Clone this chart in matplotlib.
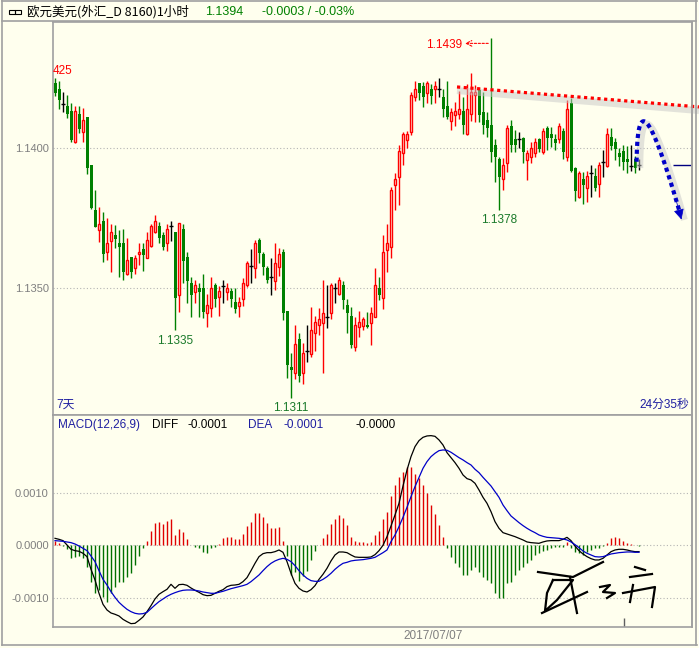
import numpy as np
import matplotlib
matplotlib.use("Agg")
import matplotlib.pyplot as plt
from matplotlib.lines import Line2D

plt.rcParams['font.family'] = ['Liberation Sans', 'Noto Sans CJK SC', 'DejaVu Sans']

# EUR/USD 1 hour candles
opens = [1.14229, 1.14209, 1.14156, 1.14148, 1.14131, 1.14019, 1.14119, 1.14057, 1.14108, 1.13938,
         1.13777, 1.13708, 1.13739, 1.13628, 1.13669, 1.13690, 1.13661, 1.13661, 1.13550, 1.13610,
         1.13571, 1.13621, 1.13640, 1.13609, 1.13649, 1.13699, 1.13723, 1.13688, 1.13660, 1.13722,
         1.13700, 1.13476, 1.13711, 1.13612, 1.13518, 1.13488, 1.13500, 1.13500, 1.13411, 1.13429,
         1.13512, 1.13468, 1.13509, 1.13487, 1.13491, 1.13451, 1.13437, 1.13461, 1.13511, 1.13579,
         1.13571, 1.13672, 1.13622, 1.13571, 1.13539, 1.13526, 1.13577, 1.13629, 1.13418, 1.13219,
         1.13200, 1.13321, 1.13200, 1.13278, 1.13266, 1.13340, 1.13368, 1.13378, 1.13399, 1.13411,
         1.13500, 1.13480, 1.13512, 1.13441, 1.13402, 1.13290, 1.13361, 1.13367, 1.13370, 1.13378,
         1.13399, 1.13500, 1.13467, 1.13636, 1.13648, 1.13867, 1.13897, 1.13980, 1.14027, 1.14057,
         1.14179, 1.14229, 1.14219, 1.14196, 1.14208, 1.14208, 1.14208, 1.14179, 1.14148, 1.14096,
         1.14116, 1.14120, 1.14132, 1.14049, 1.14120, 1.14187, 1.14205, 1.14128, 1.14099, 1.14081,
         1.14010, 1.13959, 1.13888, 1.13947, 1.14078, 1.14030, 1.14031, 1.14036, 1.13956, 1.13968,
         1.13980, 1.14030, 1.13986, 1.14069, 1.14049, 1.14031, 1.14030, 1.14059, 1.13968, 1.14158,
         1.13929, 1.13826, 1.13889, 1.13858, 1.13909, 1.13900, 1.13870, 1.13948, 1.13936, 1.14039,
         1.14019, 1.13980, 1.13988, 1.13960, 1.13936, 1.13960, 1.13938]
highs = [1.14247, 1.14237, 1.14197, 1.14187, 1.14158, 1.14149, 1.14147, 1.14140, 1.14110, 1.13938,
         1.13849, 1.13788, 1.13771, 1.13751, 1.13728, 1.13726, 1.13707, 1.13710, 1.13679, 1.13612,
         1.13618, 1.13661, 1.13661, 1.13701, 1.13728, 1.13761, 1.13737, 1.13701, 1.13728, 1.13738,
         1.13700, 1.13733, 1.13729, 1.13630, 1.13541, 1.13530, 1.13518, 1.13551, 1.13480, 1.13539,
         1.13518, 1.13508, 1.13530, 1.13518, 1.13501, 1.13500, 1.13470, 1.13536, 1.13598, 1.13639,
         1.13672, 1.13678, 1.13630, 1.13579, 1.13607, 1.13662, 1.13642, 1.13639, 1.13420, 1.13269,
         1.13370, 1.13340, 1.13304, 1.13370, 1.13432, 1.13402, 1.13430, 1.13530, 1.13512, 1.13518,
         1.13520, 1.13539, 1.13527, 1.13461, 1.13432, 1.13399, 1.13420, 1.13399, 1.13417, 1.13432,
         1.13571, 1.13539, 1.13690, 1.13729, 1.13861, 1.13911, 1.14010, 1.14057, 1.14060, 1.14199,
         1.14238, 1.14231, 1.14235, 1.14238, 1.14227, 1.14238, 1.14247, 1.14208, 1.14238, 1.14140,
         1.14164, 1.14203, 1.14179, 1.14227, 1.14267, 1.14223, 1.14211, 1.14199, 1.14128, 1.14390,
         1.14030, 1.13968, 1.13962, 1.14081, 1.14099, 1.14063, 1.14057, 1.14039, 1.13992, 1.14019,
         1.14036, 1.14033, 1.14071, 1.14078, 1.14075, 1.14048, 1.14087, 1.14071, 1.14170, 1.14176,
         1.13932, 1.13917, 1.13915, 1.13917, 1.13938, 1.13927, 1.13948, 1.13992, 1.14071, 1.14071,
         1.14033, 1.13998, 1.14010, 1.14007, 1.14010, 1.13972, 1.13960]
lows = [1.14185, 1.14137, 1.14128, 1.14105, 1.14019, 1.14017, 1.14051, 1.14019, 1.13908, 1.13782,
        1.13717, 1.13666, 1.13595, 1.13601, 1.13559, 1.13644, 1.13539, 1.13528, 1.13547, 1.13538,
        1.13550, 1.13583, 1.13562, 1.13607, 1.13648, 1.13697, 1.13660, 1.13636, 1.13633, 1.13669,
        1.13350, 1.13417, 1.13518, 1.13447, 1.13399, 1.13449, 1.13399, 1.13393, 1.13361, 1.13399,
        1.13435, 1.13402, 1.13449, 1.13458, 1.13435, 1.13411, 1.13399, 1.13437, 1.13504, 1.13518,
        1.13536, 1.13589, 1.13547, 1.13518, 1.13476, 1.13494, 1.13544, 1.13387, 1.13180, 1.13110,
        1.13176, 1.13168, 1.13160, 1.13239, 1.13257, 1.13278, 1.13334, 1.13198, 1.13358, 1.13390,
        1.13449, 1.13475, 1.13425, 1.13340, 1.13287, 1.13278, 1.13328, 1.13350, 1.13358, 1.13298,
        1.13397, 1.13458, 1.13427, 1.13559, 1.13609, 1.13778, 1.13796, 1.13940, 1.13999, 1.14045,
        1.14167, 1.14170, 1.14146, 1.14158, 1.14155, 1.14158, 1.14179, 1.14108, 1.14101, 1.14063,
        1.14077, 1.14101, 1.14049, 1.14045, 1.14096, 1.14092, 1.14092, 1.14049, 1.14039, 1.13950,
        1.13879, 1.13780, 1.13850, 1.13914, 1.13986, 1.13986, 1.13998, 1.13945, 1.13885, 1.13945,
        1.13968, 1.13986, 1.13977, 1.13992, 1.14004, 1.13992, 1.14016, 1.13960, 1.13953, 1.13915,
        1.13810, 1.13820, 1.13799, 1.13808, 1.13826, 1.13846, 1.13826, 1.13897, 1.13932, 1.13992,
        1.13956, 1.13936, 1.13921, 1.13909, 1.13917, 1.13909, 1.13921]
closes = [1.14193, 1.14170, 1.14156, 1.14119, 1.14027, 1.14131, 1.14067, 1.14099, 1.13927, 1.13787,
          1.13719, 1.13728, 1.13621, 1.13661, 1.13699, 1.13676, 1.13648, 1.13559, 1.13600, 1.13559,
          1.13609, 1.13629, 1.13618, 1.13671, 1.13721, 1.13739, 1.13678, 1.13648, 1.13711, 1.13722,
          1.13467, 1.13731, 1.13598, 1.13527, 1.13476, 1.13511, 1.13488, 1.13417, 1.13440, 1.13500,
          1.13461, 1.13489, 1.13509, 1.13501, 1.13461, 1.13427, 1.13451, 1.13518, 1.13589, 1.13579,
          1.13660, 1.13627, 1.13577, 1.13530, 1.13539, 1.13591, 1.13622, 1.13411, 1.13227, 1.13209,
          1.13302, 1.13188, 1.13269, 1.13278, 1.13352, 1.13379, 1.13391, 1.13411, 1.13399, 1.13512,
          1.13500, 1.13530, 1.13458, 1.13411, 1.13298, 1.13368, 1.13379, 1.13391, 1.13361, 1.13411,
          1.13512, 1.13476, 1.13629, 1.13660, 1.13850, 1.13890, 1.13988, 1.14049, 1.14049, 1.14187,
          1.14208, 1.14196, 1.14179, 1.14229, 1.14185, 1.14219, 1.14208, 1.14137, 1.14110, 1.14128,
          1.14132, 1.14137, 1.14081, 1.14137, 1.14199, 1.14199, 1.14116, 1.14081, 1.14069, 1.13986,
          1.13968, 1.13897, 1.13937, 1.14069, 1.14010, 1.14010, 1.14031, 1.13986, 1.13980, 1.13998,
          1.14019, 1.13995, 1.14059, 1.14036, 1.14036, 1.14018, 1.14078, 1.13986, 1.14138, 1.13917,
          1.13846, 1.13909, 1.13867, 1.13900, 1.13909, 1.13858, 1.13938, 1.13948, 1.14048, 1.14007,
          1.13995, 1.13968, 1.13948, 1.13948, 1.13936, 1.13927, 1.13938]

# MACD(12,26,9), in units of 0.0001
diff_e4 = [1.33, 1.14, 0.89, 0.06, -0.76, -1.02, -1.14, -1.52, -2.16, -4.57,
           -6.60, -9.14, -11.24, -12.32, -12.89, -13.14, -13.46, -14.10, -14.54, -14.92,
           -14.86, -14.29, -13.65, -12.64, -11.49, -10.22, -9.33, -8.83, -8.38, -7.43,
           -8.19, -7.49, -7.43, -7.62, -8.13, -8.57, -8.95, -9.40, -9.59, -9.53,
           -9.14, -8.76, -8.45, -7.87, -7.62, -7.56, -7.43, -6.92, -6.16, -4.83,
           -3.43, -2.16, -1.59, -1.40, -1.40, -1.21, -0.89, -1.33, -3.11, -5.33,
           -7.24, -8.19, -8.70, -8.89, -8.45, -7.68, -6.48, -5.52, -4.38, -2.98,
           -1.84, -1.27, -1.27, -1.40, -1.84, -2.22, -2.29, -2.29, -2.29, -2.22,
           -1.78, -1.02, 0.00, 1.65, 3.68, 5.78, 8.00, 11.30, 14.35, 16.89,
           18.80, 19.94, 20.57, 20.83, 20.89, 20.76, 20.07, 19.11, 17.65, 16.70,
           15.75, 14.67, 13.40, 12.70, 12.45, 11.81, 10.54, 9.14, 8.00, 6.41,
           4.51, 3.24, 2.41, 2.16, 1.91, 1.65, 1.33, 1.02, 0.64, 0.51,
           0.44, 0.38, 0.64, 0.83, 0.89, 0.89, 0.89, 1.14, 1.52, 0.89,
           -0.13, -1.02, -1.65, -2.16, -2.54, -2.79, -2.79, -2.48, -1.84, -1.21,
           -0.89, -0.76, -0.76, -0.89, -1.08, -1.21, -1.21]
dea_e4 = [0.89, 0.83, 0.76, 0.64, 0.51, 0.25, -0.13, -0.57, -1.02, -2.03,
          -3.11, -4.83, -6.48, -7.56, -8.83, -9.91, -10.86, -11.56, -12.19, -12.64,
          -12.95, -13.08, -13.02, -12.76, -12.07, -11.37, -10.73, -10.22, -9.72, -9.33,
          -9.02, -8.76, -8.57, -8.51, -8.51, -8.57, -8.70, -8.89, -9.02, -9.14,
          -9.14, -8.95, -8.76, -8.51, -8.26, -8.06, -7.87, -7.68, -7.43, -6.92,
          -6.29, -5.65, -4.83, -4.06, -3.43, -2.98, -2.67, -2.48, -2.67, -3.11,
          -3.87, -4.83, -5.65, -6.29, -6.73, -6.86, -6.86, -6.48, -5.97, -5.33,
          -4.57, -3.94, -3.43, -3.24, -2.98, -2.86, -2.79, -2.73, -2.60, -2.48,
          -2.29, -1.84, -1.40, -0.89, 0.70, 1.97, 3.56, 5.33, 7.24, 9.27,
          11.18, 12.95, 14.67, 15.94, 16.89, 17.53, 18.03, 18.16, 18.10, 17.72,
          17.21, 16.70, 16.26, 15.75, 15.30, 14.48, 13.84, 12.95, 12.13, 11.30,
          10.22, 9.14, 7.68, 6.60, 5.59, 4.95, 4.32, 3.75, 3.24, 2.79,
          2.41, 1.97, 1.71, 1.52, 1.46, 1.40, 1.33, 1.21, 1.02, 0.64,
          0.13, -0.44, -1.08, -1.52, -1.84, -2.16, -2.22, -2.16, -1.91, -1.65,
          -1.52, -1.40, -1.33, -1.27, -1.27, -1.33, -1.33]
hist_e4 = [0.89, 0.38, -0.13, -0.76, -2.48, -2.16, -2.03, -2.48, -4.06, -6.92,
           -9.14, -8.51, -9.78, -10.73, -9.14, -7.87, -6.92, -6.92, -5.97, -5.33,
           -3.75, -2.03, -0.57, 0.89, 2.79, 4.32, 4.51, 4.06, 4.64, 5.02,
           1.97, 3.11, 2.60, 1.27, 0.05, -0.25, -0.57, -1.27, -1.40, -0.57,
           -0.38, 0.25, 1.33, 1.65, 1.65, 1.14, 1.14, 2.10, 3.68, 4.51,
           6.10, 6.10, 5.40, 4.19, 3.37, 3.37, 3.49, 0.89, -2.03, -5.65,
           -5.02, -6.73, -5.84, -4.89, -2.79, -1.08, 0.08, 1.46, 2.16, 4.06,
           4.95, 5.78, 5.27, 3.87, 1.52, 0.89, 0.64, 0.64, 0.51, 0.64,
           1.97, 2.73, 4.95, 6.41, 9.40, 11.49, 13.08, 14.03, 14.86, 14.86,
           13.59, 12.76, 11.49, 9.91, 7.68, 5.97, 3.87, 1.65, -0.57, -2.29,
           -3.43, -4.06, -5.65, -5.65, -4.70, -4.06, -5.02, -5.97, -6.60, -7.24,
           -9.02, -10.10, -10.10, -7.24, -6.92, -5.65, -4.70, -4.06, -3.43, -2.79,
           -1.84, -1.40, -1.08, -0.89, -0.57, -0.38, -0.38, -0.25, 0.70, -0.57,
           -1.21, -1.52, -1.84, -1.21, -0.89, -0.57, -0.57, -0.13, 0.38, 1.33,
           1.52, 1.33, 0.89, 0.51, 0.25, 0.05, -0.13]

price_ticks = [1.1350, 1.1400]
macd_ticks = [-0.0010, 0.0000, 0.0010]

BG = '#FFFFEE'
FRAME = '#A0A0A0'
RED = '#FF0000'
GREEN = '#008000'
BLUE = '#0000C8'
TXTBLUE = '#1E1EA0'
GRAY = '#7F7F7F'

W, H = 699, 648
fig = plt.figure(figsize=(W / 100, H / 100), dpi=100, facecolor=BG)


def fx(px):
    return px / W


def fy(py):
    return 1 - py / H


o = np.array(opens)
h = np.array(highs)
l = np.array(lows)
c = np.array(closes)
idx = np.arange(len(o))

ax = fig.add_axes([fx(53), fy(415), fx(692) - fx(53), fy(22) - fy(415)])
ax2 = fig.add_axes([fx(53), fy(627), fx(692) - fx(53), fy(415) - fy(627)])

for a in (ax, ax2):
    a.set_facecolor(BG)
    for s in a.spines.values():
        s.set_color(FRAME)
        s.set_linewidth(1.2)
    a.set_xlim(-0.5, 159.25)
    a.set_xticks([])
    a.tick_params(axis='y', length=0, labelsize=8, labelcolor=GRAY, pad=3)

ax.set_ylim(1.130494, 1.144470)
ax2.set_ylim(-0.001556, 0.002482)

# grid
for p in price_ticks:
    ax.axhline(p, color='#B4B4B4', lw=0.8, ls=(0, (1, 2)), zorder=0)
for m in macd_ticks:
    ax2.axhline(m, color='#B4B4B4', lw=0.8, ls=(0, (1, 2)), zorder=0)
ax.set_yticks(price_ticks)
ax.set_yticklabels([f'{p:.4f}' for p in price_ticks])
ax2.set_yticks(macd_ticks)
ax2.set_yticklabels([f'{m:.4f}' for m in macd_ticks])

# candles
up = c > o
down = c < o
flat = c == o
ax.vlines(idx[up], l[up], h[up], color=RED, lw=1, zorder=1)
ax.vlines(idx[down], l[down], h[down], color=GREEN, lw=1, zorder=1)
ax.vlines(idx[flat], l[flat], h[flat], color='black', lw=1, zorder=1)
body = np.maximum(np.abs(c - o), 0.000025)
ax.bar(idx[up], body[up], bottom=o[up], width=0.62, facecolor=BG,
       edgecolor=RED, linewidth=1, zorder=2)
ax.bar(idx[down], body[down], bottom=c[down], width=0.75, facecolor=GREEN,
       edgecolor=GREEN, linewidth=0, zorder=2)
ax.hlines(o[flat], idx[flat] - 0.4, idx[flat] + 0.4, color='black', lw=1, zorder=2)

# last price marker
ax.hlines(closes[-1], 154.5, 159.25, color='#000080', lw=1, zorder=2)

# low/high labels
lab_col = '#1A7A2A'
for i in [int(np.argmin(l[:50])), int(np.argmin(l)), 111]:
    ax.annotate(f'{l[i]:.4f}', (i, l[i]), xytext=(0, -3), textcoords='offset points',
                ha='center', va='top', fontsize=8.5, color=lab_col)
ih = int(np.argmax(h))
ax.annotate(f'{h[ih]:.4f}', (ih, h[ih]), xytext=(-21, -5), textcoords='offset points',
            ha='right', va='center', fontsize=8.5, color=RED)
ax.annotate('', xy=(ih - 7.2, h[ih] - 0.00019), xytext=(ih, h[ih] - 0.00019),
            arrowprops=dict(arrowstyle='->', color=RED, lw=0.8, ls=(0, (2, 1.5))))
ax.text(0.0, h[0] + 0.00005, '425', ha='left', va='bottom', fontsize=8.5, color=RED,
        transform=ax.get_yaxis_transform())

# drawn trend line with its shadow
tl_x = [100.5, 161.0]
tl_y = [1.14216, 1.14145]
ax.plot(tl_x, [v - 0.00013 for v in tl_y], color='#C8C8C8', lw=5, alpha=0.5,
        clip_on=False, solid_capstyle='butt', zorder=3)
ax.plot(tl_x, tl_y, color=RED, lw=2.3, ls=(0, (1, 1.1)), clip_on=False, zorder=4)

# drawn forecast arrow
p0, p1, p2, p3 = (145.4, 1.13950), (145.6, 1.14170), (148.2, 1.14160), (156.3, 1.13765)
t = np.linspace(0, 1, 60)
bx = (1 - t) ** 3 * p0[0] + 3 * (1 - t) ** 2 * t * p1[0] + 3 * (1 - t) * t ** 2 * p2[0] + t ** 3 * p3[0]
by = (1 - t) ** 3 * p0[1] + 3 * (1 - t) ** 2 * t * p1[1] + 3 * (1 - t) * t ** 2 * p2[1] + t ** 3 * p3[1]
ax.plot(bx + 0.8, by - 0.00010, color='#C8C8C8', lw=5, alpha=0.5, zorder=3)
ax.plot(bx, by, color=BLUE, lw=3, ls=(0, (1, 0.9)), zorder=4)
ax.annotate('', xy=(156.8, 1.13735), xytext=(bx[-4], by[-4]),
            arrowprops=dict(arrowstyle='-|>', color=BLUE, lw=0.5, mutation_scale=16))

ax.text(0.005, 0.01, '7天', transform=ax.transAxes, ha='left', va='bottom',
        fontsize=8.5, color=TXTBLUE)
ax.text(0.995, 0.01, '24分35秒', transform=ax.transAxes, ha='right', va='bottom',
        fontsize=8.5, color=TXTBLUE)

# MACD panel
dif = np.array(diff_e4) * 1e-4
dea = np.array(dea_e4) * 1e-4
hist = np.array(hist_e4) * 1e-4
pos = hist >= 0
ax2.vlines(idx[pos], 0, hist[pos], color='#E00000', lw=1)
ax2.vlines(idx[~pos], 0, hist[~pos], color='#007000', lw=1)
ax2.plot(idx, dif, color='black', lw=0.9)
ax2.plot(idx, dea, color=BLUE, lw=0.9)
ax2.vlines(142.2, -0.001556, -0.00138, color='#606060', lw=1)

hy = fy(425)
fig.text(fx(58), hy, 'MACD(12,26,9)', color=TXTBLUE, fontsize=8.5, va='center')
fig.text(fx(152), hy, 'DIFF', color='black', fontsize=8.5, va='center')
fig.text(fx(187), hy, f'{dif[-1]:.4f}', color='black', fontsize=8.5, va='center')
fig.text(fx(248), hy, 'DEA', color=TXTBLUE, fontsize=8.5, va='center')
fig.text(fx(283), hy, f'{dea[-1]:.4f}', color=TXTBLUE, fontsize=8.5, va='center')
fig.text(fx(356), hy, '-0.0000', color='black', fontsize=8.5, va='center')

# header
fig.text(fx(27), fy(12), '欧元美元(外汇_D 8160)1小时', color='black', fontsize=9,
         va='center', family=['Noto Sans CJK SC', 'DejaVu Sans'])
fig.text(fx(205), fy(12), f'{closes[-1]:.4f}', color=GREEN, fontsize=9, va='center')
fig.text(fx(262), fy(12), '-0.0003 / -0.03%', color=GREEN, fontsize=9, va='center')
fig.patches.append(plt.Rectangle((fx(9), fy(14)), fx(6), fy(10) - fy(14), fill=False,
                                 edgecolor='black', lw=0.8, transform=fig.transFigure))
fig.patches.append(plt.Rectangle((fx(15), fy(14)), fx(6), fy(10) - fy(14), fill=False,
                                 edgecolor='black', lw=0.8, transform=fig.transFigure))

fig.text(fx(433), fy(636), '2017/07/07', color=GRAY, fontsize=8.5, ha='center', va='center')

# handwritten signature stamp (rough strokes, pixel positions)
sign_strokes = [
    [(538, 572), (573, 577), (603, 562)],
    [(553, 580), (573, 580), (557, 600), (545, 611), (547, 593), (553, 580)],
    [(542, 613), (587, 592)],
    [(570, 577), (577, 613)],
    [(600, 587), (610, 585), (603, 592), (615, 593), (607, 598)],
    [(635, 567), (645, 570)],
    [(630, 577), (652, 574)],
    [(623, 593), (655, 587), (652, 607)],
    [(633, 585), (630, 602)],
]
for st in sign_strokes:
    fig.add_artist(Line2D([fx(p[0]) for p in st], [fy(p[1]) for p in st],
                          color='black', lw=1.6, solid_joinstyle='round'))

# window frame
for xs, ys in [([2, 2], [0, 645]), ([2, 697], [1, 1]), ([2, 697], [645, 645]),
               ([696, 696], [0, 645]), ([2, 696], [21, 21]), ([692, 692], [22, 627])]:
    fig.add_artist(Line2D([fx(v) for v in xs], [fy(v) for v in ys], color=FRAME, lw=1.2))

fig.savefig('out.png', dpi=100, facecolor=BG)
